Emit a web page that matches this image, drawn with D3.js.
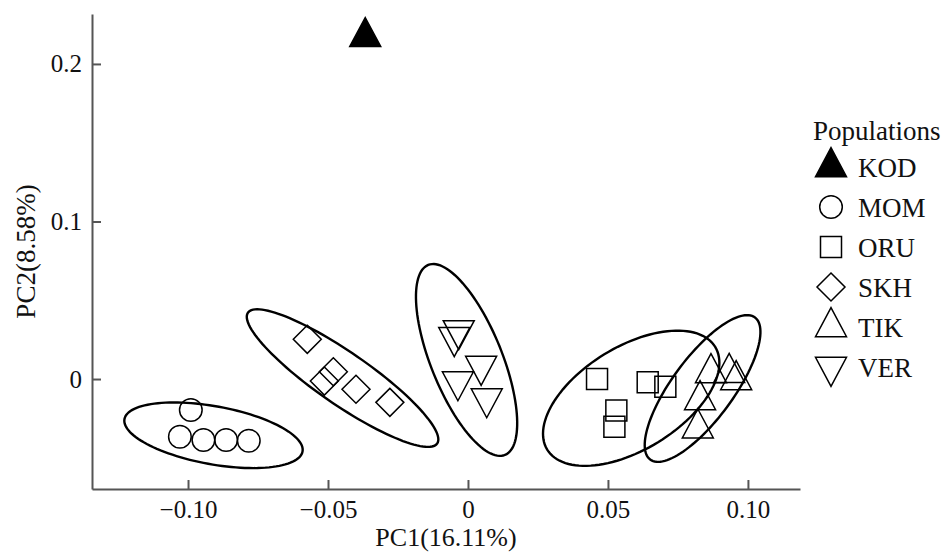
<!DOCTYPE html>
<html>
<head>

	<title>PCA Populations</title>
	<meta http-equiv="Content-Type" content="text/html; charset=utf-8" />

	<script type="text/javascript" charset="utf-8" src="https://cdn.jsdelivr.net/npm/d3@7/dist/d3.min.js"></script>

	<style type="text/css">
	body {
	  margin: 0px;
	  background-color: #fff;
	}

	svg text {
	  font-family: 'Liberation Serif', 'Times New Roman', serif;
	  fill: #111;
	}
	</style>

</head>
<body>

	<svg width="946" height="552" version="1.1" xmlns="http://www.w3.org/2000/svg"></svg>

<script type="text/javascript">

// populations and the marker used by each
var v_Populations = ["KOD" ,"MOM" ,"ORU" ,"SKH" ,"TIK" ,"VER"];
var v_Shapes      = ["triangleFill" ,"circle" ,"square" ,"diamond" ,"triangleUp" ,"triangleDown"];

// PC1 / PC2 scores
var v_KOD_PC1 = [-0.0367];
var v_KOD_PC2 = [ 0.2172];

var v_MOM_PC1 = [-0.0990 ,-0.1029 ,-0.0945 ,-0.0864 ,-0.0783];
var v_MOM_PC2 = [-0.0197 ,-0.0366 ,-0.0387 ,-0.0387 ,-0.0392];

var v_ORU_PC1 = [ 0.0461 , 0.0530 , 0.0523 , 0.0642 , 0.0705];
var v_ORU_PC2 = [ 0.0001 ,-0.0199 ,-0.0303 ,-0.0021 ,-0.0049];

var v_SKH_PC1 = [-0.0574 ,-0.0481 ,-0.0513 ,-0.0400 ,-0.0279];
var v_SKH_PC2 = [ 0.0252 , 0.0046 ,-0.0013 ,-0.0065 ,-0.0148];

var v_TIK_PC1 = [ 0.0868 , 0.0933 , 0.0958 , 0.0829 , 0.0821];
var v_TIK_PC2 = [ 0.0038 , 0.0040 ,-0.0006 ,-0.0133 ,-0.0313];

var v_VER_PC1 = [-0.0033 ,-0.0049 , 0.0047 ,-0.0036 , 0.0067];
var v_VER_PC2 = [ 0.0309 , 0.0265 , 0.0083 ,-0.0015 ,-0.0123];

// confidence ellipses: centre PC1, centre PC2, major half axis (PC1, PC2), minor half axis (PC1, PC2)
var v_Ellipse_MOM = [-0.0909 ,-0.0357 , 0.0318 ,-0.0103 ,-0.0019 ,-0.0181];
var v_Ellipse_ORU = [ 0.0583 ,-0.0122 , 0.0300 , 0.0326 , 0.0096 ,-0.0279];
var v_Ellipse_SKH = [-0.0448 , 0.0006 , 0.0338 ,-0.0415 ,-0.0053 ,-0.0136];
var v_Ellipse_TIK = [ 0.0838 ,-0.0060 , 0.0187 , 0.0451 , 0.0088 ,-0.0116];
var v_Ellipse_VER = [-0.0005 , 0.0121 , 0.0137 ,-0.0603 ,-0.0118 ,-0.0085];

// axis ticks
var v_XTicks      = [-0.10 ,-0.05 ,0 ,0.05 ,0.10];
var v_XTickLabels = ["\u22120.10" ,"\u22120.05" ,"0" ,"0.05" ,"0.10"];
var v_YTicks      = [0 ,0.1 ,0.2];
var v_YTickLabels = ["0" ,"0.1" ,"0.2"];



var v_Points = [
	{"pop":"KOD" ,"pc1":v_KOD_PC1 ,"pc2":v_KOD_PC2},
	{"pop":"MOM" ,"pc1":v_MOM_PC1 ,"pc2":v_MOM_PC2},
	{"pop":"ORU" ,"pc1":v_ORU_PC1 ,"pc2":v_ORU_PC2},
	{"pop":"SKH" ,"pc1":v_SKH_PC1 ,"pc2":v_SKH_PC2},
	{"pop":"TIK" ,"pc1":v_TIK_PC1 ,"pc2":v_TIK_PC2},
	{"pop":"VER" ,"pc1":v_VER_PC1 ,"pc2":v_VER_PC2}
];
var v_Ellipses = [v_Ellipse_MOM ,v_Ellipse_ORU ,v_Ellipse_SKH ,v_Ellipse_TIK ,v_Ellipse_VER];

var m = {left:92 ,right:800 ,top:14 ,bottom:489};
var v_TickFont  = 25;
var v_LabelFont = 26;
var v_LegendFont = 27;

var x = d3.scaleLinear().domain([-0.1343 ,0.1186]).range([m.left ,m.right]);
var y = d3.scaleLinear().domain([-0.0698 ,0.2317]).range([m.bottom ,m.top]);

var v_SVG = d3.select("body").select("svg");



function symbolPath(i_Shape)
{
	var w = 31 ,h = 29;
	switch (i_Shape)
	{
		case "circle":
			var r = 11.3;
			return "M" + (-r) + ",0A" + r + "," + r + " 0 1,0 " + r + ",0A" + r + "," + r + " 0 1,0 " + (-r) + ",0Z";
		case "square":
			var s = 10.5;
			return "M" + (-s) + "," + (-s) + "H" + s + "V" + s + "H" + (-s) + "Z";
		case "diamond":
			var d = 14;
			return "M0," + (-d) + "L" + d + ",0L0," + d + "L" + (-d) + ",0Z";
		case "triangleDown":
			return "M0," + (2 * h / 3) + "L" + (w / 2) + "," + (-h / 3) + "L" + (-w / 2) + "," + (-h / 3) + "Z";
		default:
			return "M0," + (-2 * h / 3) + "L" + (w / 2) + "," + (h / 3) + "L" + (-w / 2) + "," + (h / 3) + "Z";
	}
}



// axes
v_SVG.append("g")
.attr("transform" ,"translate(0," + m.bottom + ")")
.call(d3.axisBottom(x)
	.tickValues(v_XTicks)
	.tickFormat(function(d ,i) { return v_XTickLabels[i]; })
	.tickSizeInner(-9)
	.tickSizeOuter(0)
	.tickPadding(11));

v_SVG.append("g")
.attr("transform" ,"translate(" + m.left + ",0)")
.call(d3.axisLeft(y)
	.tickValues(v_YTicks)
	.tickFormat(function(d ,i) { return v_YTickLabels[i]; })
	.tickSizeInner(-9)
	.tickSizeOuter(0)
	.tickPadding(10));

v_SVG.selectAll(".domain ,.tick line")
.attr("stroke" ,"#555")
.attr("stroke-width" ,2);

v_SVG.selectAll(".tick text")
.attr("font-size" ,v_TickFont)
.attr("fill" ,"#111");

v_SVG.append("text")
.attr("x" ,(m.left + m.right) / 2)
.attr("y" ,546)
.attr("text-anchor" ,"middle")
.attr("font-size" ,v_LabelFont)
.text("PC1(16.11%)");

v_SVG.append("text")
.attr("transform" ,"translate(35," + ((m.top + m.bottom) / 2) + ") rotate(-90)")
.attr("text-anchor" ,"middle")
.attr("font-size" ,v_LegendFont)
.text("PC2(8.58%)");



// ellipses
var v_Line = d3.line()
.x(function(d) { return x(d[0]); })
.y(function(d) { return y(d[1]); })
.curve(d3.curveLinearClosed);

v_SVG.append("g").selectAll("path")
.data(v_Ellipses)
.enter()
.append("path")
.attr("fill" ,"none")
.attr("stroke" ,"#000")
.attr("stroke-width" ,2.4)
.attr("d" ,function(e)
{
	var v_Pts = d3.range(120).map(function(k)
	{
		var t = k / 120 * 2 * Math.PI;
		return [e[0] + e[2] * Math.cos(t) + e[4] * Math.sin(t)
		       ,e[1] + e[3] * Math.cos(t) + e[5] * Math.sin(t)];
	});
	return v_Line(v_Pts);
});



// points
v_Points.forEach(function(p)
{
	var v_Shape = v_Shapes[v_Populations.indexOf(p.pop)];
	var v_Data  = p.pc1.map(function(v ,i) { return [v ,p.pc2[i]]; });

	v_SVG.append("g").selectAll("path")
	.data(v_Data)
	.enter()
	.append("path")
	.attr("transform" ,function(d) { return "translate(" + x(d[0]) + "," + y(d[1]) + ")"; })
	.attr("d" ,symbolPath(v_Shape))
	.attr("fill" ,v_Shape == "triangleFill" ? "#000" : "none")
	.attr("stroke" ,"#000")
	.attr("stroke-width" ,1.5);
});



// legend
var v_Legend = v_SVG.append("g");

v_Legend.append("text")
.attr("x" ,813)
.attr("y" ,140)
.attr("font-size" ,v_LegendFont)
.text("Populations");

var v_Items = v_Legend.selectAll("g.item")
.data(v_Populations)
.enter()
.append("g")
.attr("class" ,"item")
.attr("transform" ,function(d ,i) { return "translate(831," + (167 + i * 40) + ")"; });

v_Items.append("path")
.attr("d" ,function(d ,i) { return symbolPath(v_Shapes[i]); })
.attr("fill" ,function(d ,i) { return v_Shapes[i] == "triangleFill" ? "#000" : "none"; })
.attr("stroke" ,"#000")
.attr("stroke-width" ,1.5);

v_Items.append("text")
.attr("x" ,27)
.attr("y" ,10)
.attr("font-size" ,v_LegendFont)
.text(function(d) { return d; });

</script>

</body>
</html>
